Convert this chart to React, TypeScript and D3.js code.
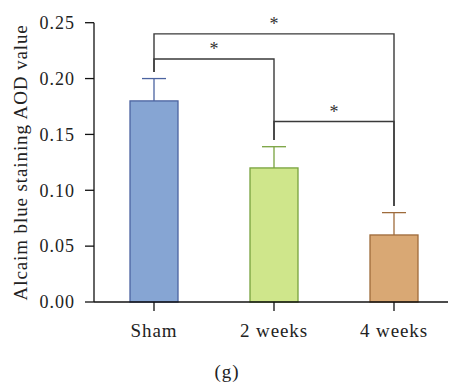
import React from "react";
import * as d3 from "d3";

const categories = ["Sham", "2 weeks", "4 weeks"];
const means = [0.18, 0.12, 0.06];
const errors = [0.02, 0.019, 0.02];
const yTicks = [0, 0.05, 0.1, 0.15, 0.2, 0.25];
const comparisons = [
  { from: "Sham", to: "4 weeks", level: 0.24, label: "*" },
  { from: "Sham", to: "2 weeks", level: 0.2175, label: "*" },
  { from: "2 weeks", to: "4 weeks", level: 0.1615, label: "*" },
];
const fills = ["#86A5D3", "#CFE68B", "#D9A874"];
const strokes = ["#4B63A0", "#78A23E", "#9E6B3B"];
const yLabel = "Alcaim blue staining AOD value";
const caption = "(g)";

const W = 449;
const H = 382;
const FONT = "Liberation Serif, DejaVu Serif, serif";
const txt: React.CSSProperties = { fontFamily: FONT, letterSpacing: "0.9px" };
const tickTxt: React.CSSProperties = { fontFamily: FONT, letterSpacing: "1px" };

export default function App() {
  const x = d3
    .scaleBand<string>()
    .domain(categories)
    .range([94, 454])
    .paddingInner(0.6)
    .paddingOuter(0.3);
  const y = d3.scaleLinear().domain([0, 0.25]).range([302, 22.7]);
  const cx = (c: string) => (x(c) as number) + x.bandwidth() / 2;
  const idx = (c: string) => categories.indexOf(c);
  const legBottom = (c: string) => y(means[idx(c)] + errors[idx(c)]) - 6.6;
  const lineColor = "#3a3a3a";

  return (
    <svg
      width={W}
      height={H}
      style={{ position: "absolute", left: 0, top: 0, background: "#fff" }}
    >
      {/* bars */}
      {categories.map((c, i) => (
        <rect
          key={c}
          x={x(c)}
          y={y(means[i])}
          width={x.bandwidth()}
          height={y(0) - y(means[i])}
          fill={fills[i]}
          stroke={strokes[i]}
          strokeWidth={1.3}
        />
      ))}
      {/* error bars */}
      {categories.map((c, i) => (
        <g key={"e" + c} stroke={strokes[i]} strokeWidth={1.3}>
          <line x1={cx(c)} x2={cx(c)} y1={y(means[i])} y2={y(means[i] + errors[i])} />
          <line
            x1={cx(c) - 12}
            x2={cx(c) + 12}
            y1={y(means[i] + errors[i])}
            y2={y(means[i] + errors[i])}
          />
        </g>
      ))}
      {/* y axis */}
      <line x1={94} x2={94} y1={y(0.25)} y2={y(0)} stroke="#111" strokeWidth={1.3} />
      {yTicks.map((t) => (
        <g key={t}>
          <line x1={85} x2={94} y1={y(t)} y2={y(t)} stroke="#111" strokeWidth={1.3} />
          <text
            x={75}
            y={y(t)}
            dy="0.35em"
            textAnchor="end"
            fontSize={18}
            fill="#222"
            style={tickTxt}
          >
            {d3.format(".2f")(t)}
          </text>
        </g>
      ))}
      {/* x axis */}
      <line x1={94} x2={448} y1={y(0)} y2={y(0)} stroke="#111" strokeWidth={1.3} />
      {categories.map((c) => (
        <g key={"x" + c}>
          <line x1={cx(c)} x2={cx(c)} y1={y(0)} y2={y(0) + 9} stroke="#111" strokeWidth={1.3} />
          <text x={cx(c)} y={337} textAnchor="middle" fontSize={19} fill="#222" style={txt}>
            {c}
          </text>
        </g>
      ))}
      {/* y label */}
      <text
        transform={`translate(27, ${(y(0) + y(0.25)) / 2}) rotate(-90)`}
        textAnchor="middle"
        fontSize={19}
        fill="#222"
        style={txt}
      >
        {yLabel}
      </text>
      {/* significance brackets */}
      {comparisons.map((cmp, i) => {
        const x1 = cx(cmp.from);
        const x2 = cx(cmp.to);
        const yl = y(cmp.level);
        return (
          <g key={"c" + i}>
            <path
              d={`M${x1},${legBottom(cmp.from)}V${yl}H${x2}V${legBottom(cmp.to)}`}
              fill="none"
              stroke={lineColor}
              strokeWidth={1.4}
            />
            <text
              x={(x1 + x2) / 2}
              y={yl - 4}
              textAnchor="middle"
              fontSize={18}
              fill="#333"
              style={{ fontFamily: FONT }}
            >
              {cmp.label}
            </text>
          </g>
        );
      })}
      <text x={227} y={378} textAnchor="middle" fontSize={19} fill="#222" style={txt}>
        {caption}
      </text>
    </svg>
  );
}
